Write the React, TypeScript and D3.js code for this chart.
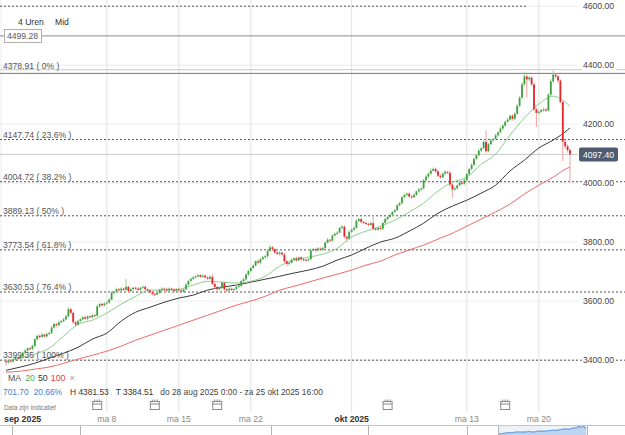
import React from "react";
import * as d3 from "d3";

const FONT = "'Liberation Sans', Arial, sans-serif";
const W = 625;
const H = 435;
const PLOT_RIGHT = 578;

// 4-hour candles, 28 aug -> 22 okt 2025 (6 per trading day)
const firstOpen = 3395.7;
const closes = [
  3392, 3398, 3395, 3402, 3408, 3405,
  3412, 3425, 3432, 3440, 3438, 3448,
  3470, 3482, 3478, 3486, 3480, 3488,
  3492, 3510, 3522, 3518, 3528, 3532,
  3538, 3548, 3572, 3560, 3528, 3520,
  3532, 3538, 3545, 3540, 3548, 3545,
  3552, 3550, 3582, 3590, 3586, 3592,
  3595, 3605, 3628, 3632, 3640, 3636,
  3642, 3638, 3648, 3634, 3640, 3645,
  3642, 3638, 3645, 3648, 3640, 3636,
  3630, 3624, 3622, 3628, 3638, 3642,
  3640, 3636, 3642, 3638, 3634, 3640,
  3636, 3632, 3640, 3655, 3668, 3675,
  3680, 3684, 3688, 3682, 3686, 3680,
  3676, 3682, 3658, 3648, 3640, 3645,
  3662, 3640, 3636, 3642, 3638, 3641,
  3648, 3652, 3668, 3674, 3690, 3702,
  3712, 3720, 3735, 3730, 3742, 3748,
  3752, 3770, 3782, 3776, 3765, 3760,
  3764, 3758, 3735, 3726, 3730, 3740,
  3745, 3738, 3748, 3742, 3740, 3738,
  3742, 3772, 3776, 3772, 3778, 3775,
  3780, 3798, 3808, 3805, 3822, 3828,
  3832, 3848, 3852, 3818, 3812, 3835,
  3842, 3848, 3872, 3878, 3868, 3865,
  3862, 3858, 3864, 3845, 3842, 3848,
  3845, 3865, 3878, 3885, 3892, 3902,
  3908, 3925, 3932, 3952, 3960, 3964,
  3955, 3952, 3960, 3972, 3978, 3982,
  4010, 4022, 4032, 4042, 4048, 4040,
  4025, 4020, 4032, 4038, 4035, 3995,
  3978, 3982, 3992, 4002, 3998, 4010,
  4030, 4048, 4062, 4082, 4095, 4110,
  4118, 4140, 4108, 4132, 4145, 4150,
  4162, 4172, 4185, 4195, 4208, 4215,
  4228, 4218, 4235, 4262, 4290, 4335,
  4362, 4352, 4358, 4335, 4250, 4238,
  4242, 4248, 4250, 4246, 4300, 4345,
  4368, 4362, 4348, 4275, 4140, 4125,
  4112, 4097.4,
];
// wick length above / below the body
const wickUp = [
  6, 4, 5, 4, 6, 3,
  5, 4, 6, 3, 5, 4,
  6, 5, 4, 7, 3, 5,
  4, 6, 5, 3, 5, 4,
  5, 6, 8, 4, 5, 3,
  4, 5, 3, 6, 4, 3,
  5, 3, 6, 4, 5, 3,
  4, 6, 5, 3, 6, 4,
  5, 3, 27, 4, 5, 3,
  4, 6, 3, 5, 4, 3,
  5, 4, 3, 6, 4, 5,
  3, 5, 4, 3, 6, 4,
  4, 5, 3, 6, 4, 5,
  5, 4, 6, 3, 5, 4,
  4, 6, 10, 5, 3, 4,
  6, 4, 3, 5, 4, 3,
  5, 3, 4, 6, 5, 4,
  4, 5, 3, 6, 4, 5,
  4, 6, 8, 5, 3, 4,
  5, 3, 4, 5, 3, 6,
  4, 5, 3, 4, 5, 3,
  5, 6, 4, 3, 5, 4,
  4, 5, 6, 3, 4, 5,
  5, 4, 6, 5, 3, 4,
  4, 5, 6, 4, 5, 3,
  4, 3, 5, 28, 4, 3,
  5, 4, 6, 3, 5, 4,
  4, 6, 5, 4, 6, 5,
  5, 4, 6, 3, 5, 4,
  4, 6, 5, 8, 5, 4,
  6, 5, 4, 6, 3, 5,
  4, 5, 3, 6, 4, 5,
  5, 4, 6, 5, 4, 6,
  4, 5, 40, 4, 5, 3,
  5, 4, 6, 5, 4, 6,
  4, 6, 5, 6, 5, 8,
  16, 6, 5, 4, 5, 6,
  5, 4, 6, 4, 5, 8,
  13.5, 6, 5, 4, 5, 8,
  6, 5,
];
const wickDown = [
  11, 5, 4, 6, 3, 5,
  4, 5, 3, 6, 4, 5,
  5, 4, 6, 3, 5, 4,
  4, 5, 3, 6, 4, 5,
  5, 3, 4, 6, 5, 8,
  4, 5, 3, 4, 6, 3,
  5, 4, 3, 6, 4, 5,
  4, 5, 3, 6, 4, 5,
  5, 4, 3, 6, 4, 5,
  4, 5, 3, 4, 6, 5,
  4, 6, 5, 3, 4, 5,
  5, 4, 6, 3, 5, 4,
  4, 5, 3, 4, 5, 3,
  4, 3, 5, 4, 3, 5,
  5, 4, 3, 6, 5, 4,
  4, 6, 5, 3, 4, 5,
  4, 3, 5, 4, 3, 5,
  5, 4, 3, 5, 4, 3,
  4, 5, 3, 6, 5, 4,
  5, 4, 6, 8, 5, 4,
  4, 5, 3, 6, 5, 4,
  4, 5, 3, 5, 4, 3,
  5, 4, 3, 5, 4, 3,
  4, 3, 5, 6, 12, 4,
  4, 5, 3, 5, 4, 5,
  4, 5, 3, 5, 4, 3,
  5, 4, 3, 5, 4, 3,
  4, 3, 5, 4, 3, 5,
  6, 5, 4, 3, 5, 4,
  4, 3, 5, 4, 3, 6,
  5, 4, 3, 5, 4, 8,
  28, 5, 4, 3, 5, 4,
  4, 3, 5, 4, 3, 5,
  4, 3, 5, 4, 3, 5,
  4, 5, 3, 4, 5, 3,
  4, 6, 5, 3, 4, 5,
  5, 62, 8, 6, 5, 48,
  5, 4, 6, 5, 4, 5,
  5, 6, 8, 5, 65, 10,
  8, 93,
];

// moving averages, read at the start of every trading day (+ last candle)
const ma20 = [
  3396, 3406, 3420, 3440, 3481, 3521, 3535, 3559, 3589, 3616,
  3637, 3637, 3640, 3654, 3667, 3664, 3661, 3667, 3684, 3718,
  3739, 3749, 3759, 3779, 3817, 3837, 3854, 3874, 3902, 3932,
  3973, 4003, 4020, 4064, 4098, 4163, 4221, 4268, 4295, 4268, 4261,
];
const ma50 = [
  3365, 3376, 3389, 3406, 3423, 3443, 3471, 3491, 3532, 3562,
  3579, 3596, 3610, 3620, 3637, 3647, 3654, 3664, 3674, 3684,
  3695, 3705, 3718, 3739, 3756, 3779, 3800, 3813, 3837, 3864,
  3898, 3922, 3942, 3966, 3993, 4041, 4078, 4119, 4146, 4180, 4187,
];
const ma100 = [
  3359, 3362, 3369, 3376, 3389, 3403, 3416, 3430, 3447, 3467,
  3484, 3501, 3518, 3535, 3552, 3569, 3586, 3600, 3616, 3637,
  3650, 3664, 3678, 3691, 3705, 3722, 3735, 3756, 3773, 3790,
  3810, 3830, 3854, 3878, 3902, 3929, 3963, 3993, 4020, 4051, 4054,
];

const fibLevels = [4378.91, 4147.74, 4004.72, 3889.13, 3773.54, 3630.53, 3399.35];
const fibPct = ["0%", "23.6%", "38.2%", "50%", "61.8%", "76.4%", "100%"];
const priceTicks = [4600, 4400, 4200, 4000, 3800, 3600, 3400];
const lastPrice = 4097.4;
const markLevel = 4499.28;
const extLevel = 4600;
const rangeHigh = 4381.53;
const rangeLow = 3384.51;
const rangeText = "do 28 aug 2025 0:00 - za 25 okt 2025 16:00";

const dateTicks = ["ma 8", "ma 15", "ma 22", "okt 2025", "ma 13", "ma 20"];
const dateTickIdx = [42, 72, 102, 144, 192, 222];
const eventIdx = [38, 62, 88, 159, 208];

const UP = "#3f9f3f";
const UP_WICK = "#98d198";
const DOWN = "#e4262c";
const DOWN_WICK = "#f2a0a0";
const C20 = "#8ccf8c";
const C50 = "#3a3a3a";
const C100 = "#ee6a6a";
const BLUE = "#3d7fd9";

const Calendar = ({ cx, cy }: { cx: number; cy: number }) => (
  <g stroke="#8a8a8a" fill="none" strokeWidth={1}>
    <rect x={cx - 4.5} y={cy - 3.5} width={9} height={8} fill="#fff" />
    <line x1={cx - 4.5} x2={cx + 4.5} y1={cy - 1} y2={cy - 1} />
    <line x1={cx - 2.5} x2={cx - 2.5} y1={cy - 5.5} y2={cy - 3} />
    <line x1={cx} x2={cx} y1={cy - 5.5} y2={cy - 3} />
    <line x1={cx + 2.5} x2={cx + 2.5} y1={cy - 5.5} y2={cy - 3} />
  </g>
);

export default function App() {
  const x = d3.scaleLinear().domain([0, closes.length - 1]).range([6, 570]);
  const y = d3.scaleLinear().domain([3400, 4600]).range([360, 6.2]);

  const candles = closes.map((c, i) => {
    const o = i === 0 ? firstOpen : closes[i - 1];
    return {
      i,
      o,
      c,
      hi: Math.max(o, c) + wickUp[i],
      lo: Math.min(o, c) - wickDown[i],
    };
  });

  const maLine = d3
    .line<number>()
    .x((_, k) => x(Math.min(k * 6, closes.length - 1)))
    .y((v) => y(v))
    .curve(d3.curveMonotoneX);

  // navigator sparkline
  const nx = d3.scaleLinear().domain([0, closes.length - 1]).range([499, 586]);
  const ny = d3.scaleLinear().domain([3380, 4400]).range([434, 426]);
  const navArea = d3
    .area<number>()
    .x((_, i) => nx(i))
    .y0(435)
    .y1((v) => ny(v));
  const navLine = d3
    .line<number>()
    .x((_, i) => nx(i))
    .y((v) => ny(v));

  const bw = 1.8;
  const change = lastPrice - firstOpen;
  const changePct = (change / firstOpen) * 100;

  return (
    <svg
      width={W}
      height={H}
      style={{ position: "absolute", left: 0, top: 0, background: "#fff" }}
      fontFamily={FONT}
    >
      <defs>
        <clipPath id="plot">
          <rect x={0} y={0} width={PLOT_RIGHT} height={400} />
        </clipPath>
      </defs>

      {/* grid */}
      {priceTicks.map((t) => (
        <line key={t} x1={0} x2={PLOT_RIGHT} y1={y(t)} y2={y(t)} stroke="#ececec" />
      ))}
      {dateTickIdx.map((d) => (
        <line key={d} x1={x(d)} x2={x(d)} y1={0} y2={412} stroke="#e2e2e2" />
      ))}
      <line x1={1} x2={1} y1={0} y2={400} stroke="#ececec" />

      {/* levels */}
      <line x1={0} x2={x(217)} y1={y(extLevel)} y2={y(extLevel)} stroke="#555" strokeDasharray="2,2" />
      <line x1={0} x2={W} y1={y(markLevel)} y2={y(markLevel)} stroke="#8c8c8c" />
      <line x1={0} x2={W} y1={y(rangeHigh) - 1} y2={y(rangeHigh) - 1} stroke="#d4d4d4" strokeWidth={1.2} />
      <line x1={0} x2={W} y1={y(fibLevels[0]) + 2} y2={y(fibLevels[0]) + 2} stroke="#777" />
      {fibLevels.slice(1).map((f) => (
        <line key={f} x1={0} x2={W} y1={y(f)} y2={y(f)} stroke="#555" strokeDasharray="2,2" />
      ))}
      <line x1={0} x2={PLOT_RIGHT} y1={y(lastPrice)} y2={y(lastPrice)} stroke="#c8c8c8" />

      {/* MAs and candles */}
      <g clipPath="url(#plot)">
        <path d={maLine(ma100) ?? ""} fill="none" stroke={C100} strokeWidth={1} />
        <path d={maLine(ma50) ?? ""} fill="none" stroke={C50} strokeWidth={1} />
        <path d={maLine(ma20) ?? ""} fill="none" stroke={C20} strokeWidth={1} />
        {candles.map((k) => {
          const up = k.c >= k.o;
          const top = y(Math.max(k.o, k.c));
          const bot = y(Math.min(k.o, k.c));
          return (
            <g key={k.i}>
              <line
                x1={x(k.i)}
                x2={x(k.i)}
                y1={y(k.hi)}
                y2={y(k.lo)}
                stroke={up ? UP_WICK : DOWN_WICK}
                strokeWidth={1}
              />
              <rect
                x={x(k.i) - bw / 2}
                y={top}
                width={bw}
                height={Math.max(1, bot - top)}
                fill={up ? UP : DOWN}
              />
            </g>
          );
        })}
      </g>

      {/* fib labels */}
      {fibLevels.map((f, i) => (
        <text key={f} x={3} y={y(f) - 2} fontSize={8.6} fill="#555">
          {`${f.toFixed(2)} ( ${fibPct[i]} )`}
        </text>
      ))}

      {/* right axis */}
      {priceTicks.map((t) => (
        <g key={t}>
          <rect x={582} y={y(t) - 5} width={34} height={10} fill="#fff" />
          <text x={583} y={y(t) + 3.2} fontSize={8.6} fill="#444">
            {t.toFixed(2)}
          </text>
        </g>
      ))}
      <rect x={579} y={y(lastPrice) - 7} width={39} height={14} rx={2} fill="#4e5b70" />
      <text x={598.5} y={y(lastPrice) + 3.2} fontSize={8.6} fill="#fff" textAnchor="middle">
        {lastPrice.toFixed(2)}
      </text>

      {/* top-left */}
      <text x={18} y={25} fontSize={8.6} fill="#333">4 Uren</text>
      <text x={55} y={25} fontSize={8.6} fill="#333">Mid</text>
      <rect x={4.5} y={29.5} width={37} height={13} fill="#fff" stroke="#b0b0b0" />
      <text x={7} y={39} fontSize={8.6} fill="#555">{markLevel.toFixed(2)}</text>

      {/* legend + stats */}
      <text x={8} y={381} fontSize={8.8}>
        <tspan fill="#555">MA </tspan>
        <tspan fill="#4caf50" dx={2}>20</tspan>
        <tspan fill="#333" dx={3}>50</tspan>
        <tspan fill="#e53935" dx={3}>100</tspan>
        <tspan fill="#999" dx={4}>×</tspan>
      </text>
      <text x={3} y={395} fontSize={8.4}>
        <tspan fill={BLUE}>{change.toFixed(2)}</tspan>
        <tspan fill={BLUE} dx={5}>{changePct.toFixed(2)}%</tspan>
        <tspan fill="#333" dx={8}>H {rangeHigh.toFixed(2)}</tspan>
        <tspan fill="#333" dx={7}>T {rangeLow.toFixed(2)}</tspan>
        <tspan fill="#444" dx={7}>{rangeText}</tspan>
      </text>
      <text x={4} y={409.5} fontSize={6.4} fill="#777">Data zijn indicatief</text>
      {eventIdx.map((e) => (
        <Calendar key={e} cx={x(e)} cy={405} />
      ))}

      {/* date axis */}
      <text x={4} y={422} fontSize={8.8} fill="#333" fontWeight="bold">sep 2025</text>
      {dateTicks.map((d, i) => (
        <text
          key={d}
          x={x(dateTickIdx[i])}
          y={422}
          fontSize={8.6}
          textAnchor="middle"
          fill={d.startsWith("okt") ? "#333" : "#8a8a8a"}
          fontWeight={d.startsWith("okt") ? "bold" : "normal"}
        >
          {d}
        </text>
      ))}

      {/* navigator */}
      <rect x={498} y={426} width={89} height={9} fill="#eef1f5" />
      <path d={navArea(closes) ?? ""} fill="#bcd6f2" />
      <path d={navLine(closes) ?? ""} fill="none" stroke={BLUE} strokeWidth={1} />
      <line x1={0} x2={W} y1={425.5} y2={425.5} stroke="#c4c4c4" />
      {[12, 80, 271, 368, 467, 498, 587].map((v) => (
        <line key={v} x1={v + 0.5} x2={v + 0.5} y1={426} y2={435} stroke="#b4b4b4" />
      ))}
    </svg>
  );
}
